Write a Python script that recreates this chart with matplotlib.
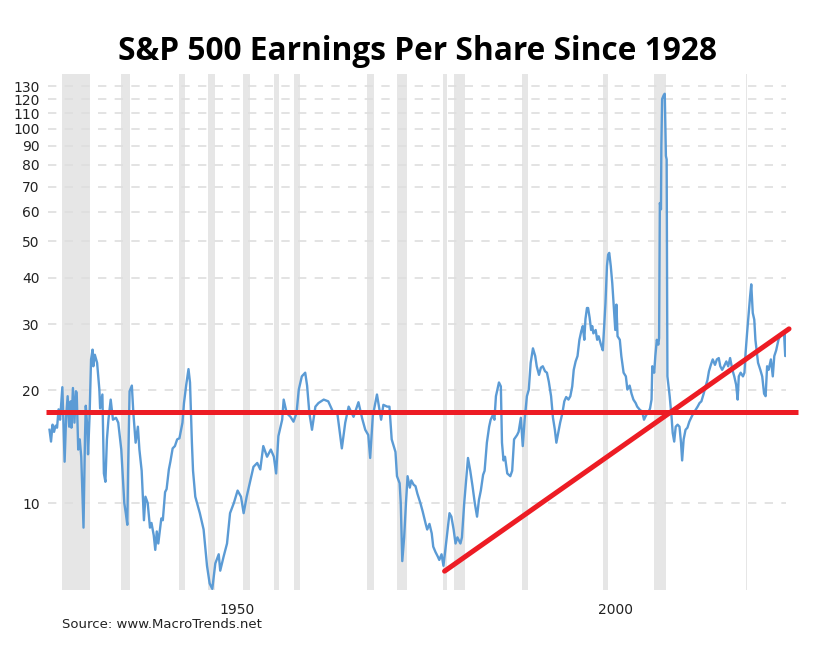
import numpy as np
import matplotlib
matplotlib.use("Agg")
from matplotlib import pyplot as plt
import matplotlib.transforms as mtransforms
from matplotlib.ticker import FixedLocator, NullLocator

# values (year, ratio)
years = [
    1927.9, 1928.1, 1928.3, 1928.5, 1928.7, 1928.9, 1929.1, 1929.3, 1929.6, 1929.9,
    1930.1, 1930.3, 1930.5, 1930.7, 1930.8, 1931.0, 1931.2, 1931.4, 1931.5, 1931.7,
    1931.9, 1932.1, 1932.4, 1932.6, 1932.7, 1932.9, 1933.0, 1933.2, 1933.4, 1933.6,
    1933.7, 1933.9, 1934.2, 1934.5, 1934.6, 1934.9, 1935.1, 1935.3, 1935.5, 1935.7,
    1936.0, 1936.3, 1936.7, 1937.0, 1937.4, 1937.5, 1937.8, 1938.0, 1938.2, 1938.3,
    1938.5, 1938.8, 1939.0, 1939.3, 1939.6, 1939.8, 1940.1, 1940.4, 1940.6, 1940.9,
    1941.2, 1941.4, 1941.7, 1941.9, 1942.1, 1942.3, 1942.7, 1942.9, 1943.2, 1943.4,
    1943.7, 1943.9, 1944.2, 1944.5, 1944.8, 1945.1, 1945.5, 1945.7, 1946.0, 1946.3,
    1946.5, 1946.75, 1946.9, 1947.2, 1947.8, 1948.3, 1948.75, 1949.1, 1949.45, 1949.85,
    1950.3, 1950.5, 1950.95, 1951.4, 1951.8, 1952.3, 1952.8, 1953.25, 1953.6, 1954.0,
    1954.5, 1954.9, 1955.4, 1955.8, 1956.2, 1956.7, 1957.2, 1957.6, 1957.9, 1958.2,
    1958.7, 1958.9, 1959.3, 1959.8, 1960.2, 1960.6, 1960.9, 1961.3, 1961.75, 1962.0,
    1962.3, 1962.65, 1963.1, 1963.5, 1964.2, 1964.8, 1965.5, 1966.0, 1966.6, 1967.05,
    1967.5, 1968.15, 1968.8, 1969.3, 1969.7, 1970.1, 1970.35, 1970.7, 1971.25, 1971.8,
    1972.1, 1972.6, 1972.9, 1973.2, 1973.7, 1973.9, 1974.25, 1974.4, 1974.6, 1974.85,
    1975.1, 1975.3, 1975.6, 1975.8, 1976.1, 1976.35, 1976.6, 1977.0, 1977.3, 1977.7,
    1977.9, 1978.2, 1978.5, 1978.7, 1979.0, 1979.3, 1979.5, 1979.8, 1980.05, 1980.3,
    1980.6, 1980.85, 1981.1, 1981.4, 1981.65, 1981.9, 1982.3, 1982.5, 1982.8, 1983.1,
    1983.3, 1983.6, 1983.9, 1984.2, 1984.5, 1984.75, 1985.0, 1985.3, 1985.5, 1985.8,
    1986.1, 1986.3, 1986.6, 1986.8, 1987.0, 1987.4, 1987.65, 1987.8, 1988.0, 1988.2,
    1988.5, 1988.9, 1989.15, 1989.4, 1989.8, 1990.0, 1990.3, 1990.55, 1990.8, 1991.1,
    1991.35, 1991.6, 1991.9, 1992.2, 1992.4, 1992.7, 1992.95, 1993.2, 1993.5, 1993.75,
    1994.0, 1994.3, 1994.55, 1994.8, 1995.0, 1995.25, 1995.5, 1995.8, 1996.05, 1996.3,
    1996.6, 1996.85, 1997.1, 1997.3, 1997.55, 1997.8, 1998.05, 1998.3, 1998.5, 1998.7,
    1998.85, 1999.05, 1999.2, 1999.4, 1999.6, 1999.75, 1999.9, 2000.2, 2000.4, 2000.6,
    2000.9, 2001.15, 2001.3, 2001.5, 2001.7, 2001.85, 2002.0, 2002.2, 2002.4, 2002.6,
    2002.8, 2002.95, 2003.1, 2003.4, 2003.6, 2003.9, 2004.2, 2004.4, 2004.7, 2004.95,
    2005.2, 2005.5, 2005.7, 2006.1, 2006.35, 2006.6, 2006.9, 2007.15, 2007.4, 2007.6,
    2007.7, 2007.95, 2008.1, 2008.3, 2008.5, 2008.6, 2008.7, 2008.85, 2008.9, 2009.0,
    2009.2, 2009.35, 2009.5, 2009.6, 2009.7, 2010.0, 2010.25, 2010.4, 2010.6, 2010.8,
    2011.05, 2011.3, 2011.5, 2011.65, 2011.85, 2012.1, 2012.35, 2012.6, 2012.9, 2013.15,
    2013.4, 2013.7, 2013.95, 2014.2, 2014.5, 2014.75, 2015.0, 2015.2, 2015.45, 2015.7,
    2016.0, 2016.25, 2016.5, 2016.7, 2016.95, 2017.2, 2017.5, 2017.75, 2018.0, 2018.3,
    2018.55, 2018.8, 2019.0, 2019.15, 2019.4, 2019.7, 2019.9, 2020.05, 2020.25, 2020.5,
    2020.65, 2020.8, 2021.0, 2021.2, 2021.35, 2021.55, 2021.7, 2022.0, 2022.25, 2022.5,
    2022.7, 2022.9, 2023.1, 2023.4, 2023.65, 2023.85, 2024.1, 2024.4, 2024.6, 2024.9,
    2025.15, 2025.3, 2025.4,
]
values = [
    15.7, 14.6, 16.2, 15.5, 16.1, 15.9, 17.8, 16.7, 20.4, 12.9,
    17.0, 19.3, 16.0, 18.7, 15.9, 20.3, 16.4, 19.9, 19.7, 13.9,
    14.8, 13.3, 8.6, 15.1, 18.2, 16.0, 13.5, 17.0, 24.2, 25.7,
    23.2, 24.9, 23.7, 20.1, 17.9, 19.5, 12.0, 11.4, 14.8, 16.7,
    18.9, 16.7, 16.9, 16.4, 13.9, 12.8, 10.0, 9.4, 8.75, 12.2,
    19.9, 20.6, 17.4, 14.5, 16.0, 13.9, 12.2, 9.0, 10.4, 10.0,
    8.6, 8.85, 8.2, 7.5, 8.4, 7.8, 9.1, 9.0, 10.7, 10.9,
    12.3, 12.9, 14.0, 14.2, 14.8, 14.9, 16.4, 18.5, 20.7, 22.8,
    21.0, 14.5, 12.2, 10.4, 9.4, 8.5, 6.8, 6.1, 5.9, 6.9,
    7.3, 6.6, 7.2, 7.8, 9.4, 10.0, 10.8, 10.4, 9.4, 10.4,
    11.5, 12.5, 12.8, 12.3, 14.2, 13.3, 13.9, 13.3, 12.0, 15.1,
    16.7, 18.9, 17.4, 17.0, 16.5, 17.4, 20.1, 21.8, 22.3, 20.6,
    17.4, 15.7, 18.1, 18.5, 18.9, 18.7, 17.4, 17.4, 14.0, 16.4,
    18.1, 17.0, 18.6, 16.8, 15.7, 15.2, 13.2, 17.1, 19.5, 16.7,
    18.3, 18.1, 18.1, 14.8, 13.7, 11.8, 11.3, 10.0, 7.0, 8.1,
    10.1, 11.8, 11.0, 11.5, 11.2, 11.1, 10.6, 10.0, 9.5, 8.8,
    8.5, 8.8, 8.3, 7.65, 7.4, 7.2, 7.05, 7.3, 6.8, 7.5,
    8.5, 9.4, 9.2, 8.5, 7.8, 8.1, 7.8, 8.1, 10.0, 11.8,
    13.2, 12.2, 11.1, 10.0, 9.2, 10.2, 10.8, 11.9, 12.2, 14.5,
    16.0, 16.7, 17.2, 16.7, 19.3, 21.0, 20.5, 14.5, 13.0, 13.3,
    12.0, 11.8, 12.2, 14.8, 15.2, 15.5, 16.9, 14.2, 16.7, 19.3,
    20.1, 23.7, 25.9, 24.7, 23.2, 22.0, 23.0, 23.2, 22.5, 22.3,
    21.1, 19.3, 16.9, 15.7, 14.5, 15.4, 16.4, 17.4, 18.7, 19.2,
    18.9, 19.3, 20.5, 22.7, 23.9, 24.7, 27.3, 28.8, 29.7, 27.3,
    31.0, 33.2, 33.2, 31.3, 29.0, 29.7, 28.4, 29.0, 27.3, 27.9,
    26.5, 25.6, 29.0, 34.2, 43.0, 46.1, 46.6, 43.0, 38.7, 33.6,
    29.0, 33.9, 27.9, 27.3, 24.7, 22.3, 21.8, 20.1, 20.6, 19.6,
    18.9, 18.5, 18.1, 17.7, 17.6, 16.7, 17.2, 17.4, 17.9, 18.9,
    23.2, 22.3, 24.7, 27.3, 26.5, 27.6, 63.3, 60.9, 90.0, 120.0,
    122.8, 124.0, 84.6, 82.8, 21.8, 19.3, 17.0, 15.4, 14.6, 16.0,
    16.2, 16.0, 14.5, 13.0, 14.8, 15.7, 15.9, 16.5, 17.0, 17.4,
    17.7, 18.1, 18.5, 18.7, 19.6, 20.5, 21.3, 22.5, 23.4, 24.2,
    23.4, 24.2, 24.4, 23.2, 22.7, 23.2, 23.9, 23.2, 24.4, 22.7,
    21.8, 20.7, 18.9, 21.8, 22.3, 21.8, 22.3, 25.2, 28.5, 32.9,
    35.7, 38.4, 32.2, 30.9, 27.3, 25.2, 23.7, 22.7, 21.8, 19.6,
    19.3, 23.2, 22.7, 24.2, 21.8, 24.7, 25.6, 27.3, 27.9, 28.5,
    28.2, 24.7, 28.8,
]

# NBER recessions (start, end)
recessions = [
    (1929.6, 1933.2), (1937.4, 1938.5), (1945.1, 1945.8), (1948.9, 1949.8),
    (1953.5, 1954.4), (1957.6, 1958.3), (1960.3, 1961.1), (1969.9, 1970.9),
    (1973.9, 1975.2), (1980.0, 1980.5), (1981.5, 1982.9), (1990.5, 1991.2),
    (2001.2, 2001.9), (2007.9, 2009.5), (2020.1, 2020.3),
]

# red annotation lines
flat_x = [1927.4, 2027.0]
flat_y = [17.5, 17.5]
trend_x = [1980.2, 2025.8]
trend_y = [6.58, 29.2]

y_ticks = [10, 20, 30, 40, 50, 60, 70, 80, 90, 100, 110, 120, 130]
x_ticks = [1950, 2000]

fig = plt.figure(figsize=(8.36, 6.47), dpi=100)
ax = fig.add_axes([48 / 836, 1 - 590 / 647, 738 / 836, 516 / 647])

for start, end in recessions:
    ax.axvspan(start, end, color="#e6e6e6", lw=0, zorder=0)

ax.plot(years, values, color="#5b9bd5", lw=1.7, zorder=3)
ax.plot(flat_x, flat_y, color="#ed1c24", lw=3.6, zorder=4, clip_on=False,
        solid_capstyle="butt")
ax.plot(trend_x, trend_y, color="#ed1c24", lw=3.6, zorder=4, clip_on=False,
        solid_capstyle="round")

ax.set_yscale("log")
ax.set_xlim(1927.7, 2025.4)
ax.set_ylim(5.86, 140)
ax.yaxis.set_major_locator(FixedLocator(y_ticks))
ax.yaxis.set_minor_locator(NullLocator())
ax.set_yticklabels([str(t) for t in y_ticks])
ax.set_xticks(x_ticks)
ax.set_xticklabels([str(t) for t in x_ticks])

ax.grid(axis="y", color="#dedede", lw=1.2, ls=(0, (5, 5)), zorder=1)
ax.set_axisbelow(False)
for s in ax.spines.values():
    s.set_visible(False)
ax.tick_params(axis="both", length=0, labelsize=10, colors="#222222")
ax.tick_params(axis="y", pad=6)
ax.tick_params(axis="x", pad=9)

# macrotrends puts the year labels a bit right of the year start
shift = mtransforms.ScaledTranslation(0.21, 0, fig.dpi_scale_trans)
for lab in ax.get_xticklabels():
    lab.set_transform(lab.get_transform() + shift)

fig.text(0.5, 1 - 51 / 647, "S&P 500 Earnings Per Share Since 1928",
         ha="center", va="center", fontsize=22.8, fontweight="bold",
         family="Open Sans", color="black")
fig.text(62 / 836, 1 - 625 / 647, "Source: www.MacroTrends.net",
         ha="left", va="center", fontsize=9.5, color="#222222")

fig.savefig("out.png", dpi=100)
